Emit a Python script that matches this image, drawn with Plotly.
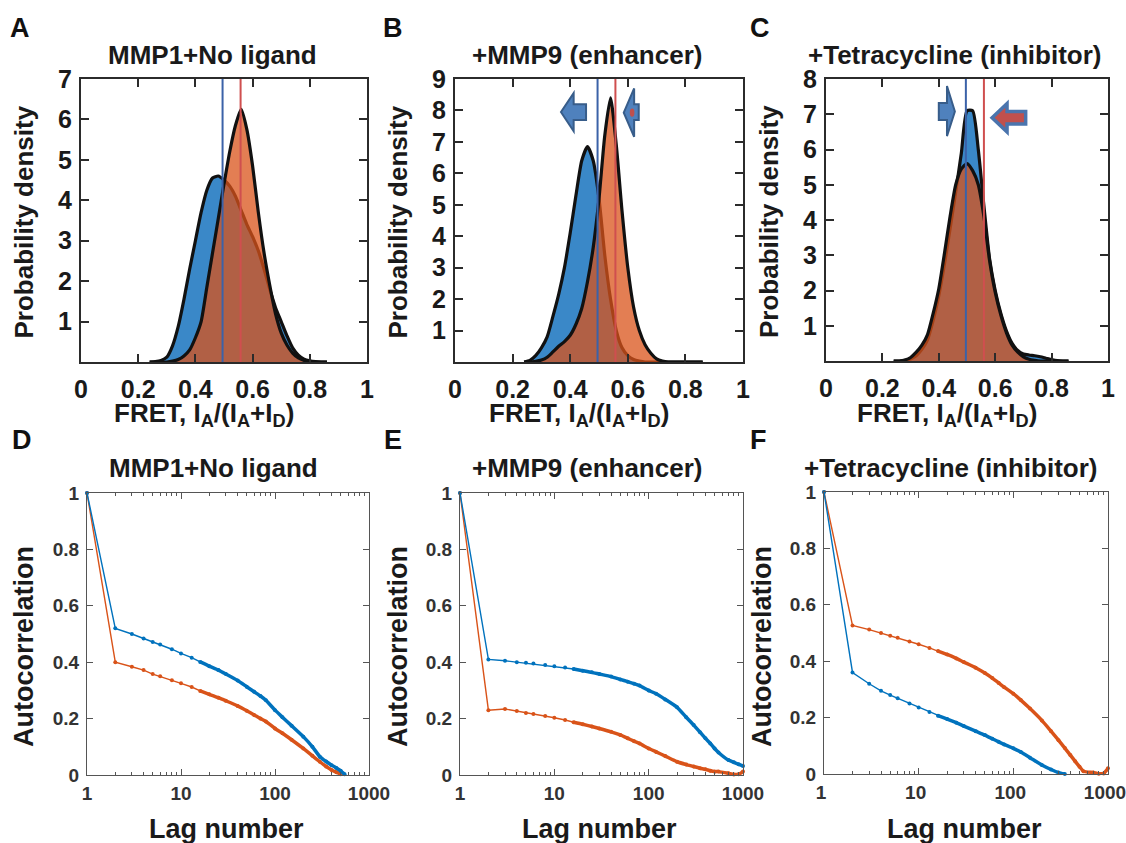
import plotly.graph_objects as go

# ---------------- data ----------------
fret_bins = [0.24, 0.26, 0.28, 0.30, 0.32, 0.34, 0.36, 0.38, 0.40, 0.42, 0.44,
             0.46, 0.48, 0.50, 0.52, 0.54, 0.56, 0.58, 0.60, 0.62, 0.64, 0.66,
             0.68, 0.70, 0.72, 0.74, 0.76, 0.78, 0.80, 0.82, 0.84, 0.86]

hist_A_blue = [0, 0.01, 0.04, 0.12, 0.40, 0.88, 1.55, 2.3, 3.0, 3.7, 4.25, 4.55, 4.6, 4.5,
               4.35, 4.1, 3.75, 3.4, 3.1, 2.75, 2.3, 1.8, 1.35, 1.0, 0.65, 0.35, 0.17,
               0.07, 0.03, 0.01, 0, 0]
hist_A_orange = [0, 0, 0, 0, 0.02, 0.06, 0.15, 0.3, 0.6, 1.0, 1.85, 2.7, 3.55, 4.4, 5.2,
                 5.85, 6.25, 5.75, 4.85, 3.7, 2.7, 1.9, 1.2, 0.72, 0.42, 0.22, 0.1, 0.04,
                 0.01, 0, 0, 0]
hist_B_blue = [0, 0.05, 0.2, 0.45, 0.8, 1.45, 2.15, 3.0, 4.1, 5.3, 6.4, 6.85, 6.4, 5.2,
               3.4, 2.0, 1.0, 0.45, 0.2, 0.08, 0.03, 0, 0, 0, 0, 0, 0, 0, 0, 0, 0, 0]
hist_B_orange = [0, 0, 0.02, 0.06, 0.15, 0.32, 0.5, 0.65, 0.85, 1.2, 1.7, 2.55, 3.65, 5.2,
                 7.2, 8.4, 6.9, 4.8, 3.0, 1.75, 1.0, 0.55, 0.28, 0.1, 0.03, 0, 0, 0, 0,
                 0, 0, 0]
hist_C_blue = [0, 0, 0.02, 0.06, 0.15, 0.33, 0.6, 1.15, 1.85, 2.75, 3.75, 4.8, 5.9, 7.1,
               7.1, 6.0, 4.4, 2.9, 2.0, 1.35, 0.85, 0.5, 0.3, 0.2, 0.17, 0.15, 0.12, 0.08,
               0.04, 0.01, 0, 0]
hist_C_orange = [0, 0, 0.03, 0.1, 0.25, 0.45, 0.75, 1.35, 2.05, 3.05, 4.1, 5.0, 5.45, 5.6,
                 5.4, 5.0, 4.1, 2.85, 1.95, 1.3, 0.8, 0.45, 0.25, 0.12, 0.05, 0.02, 0, 0,
                 0, 0, 0, 0]

mean_fret_blue = [0.495, 0.495, 0.496]
mean_fret_red = [0.558, 0.557, 0.560]

fret_ticks = [0, 0.2, 0.4, 0.6, 0.8, 1]
fret_ticktext = ["0", "0.2", "0.4", "0.6", "0.8", "1"]
density_max = [7, 9, 8]

lags = [1, 2, 3, 4, 5, 6, 8, 10, 13, 16, 20, 25, 30, 40, 50, 60, 70, 80, 100, 120, 150,
        200, 250, 300, 350, 400, 450, 500, 550, 700, 800, 900, 1000]

acf_D_blue = [1, 0.52, 0.50, 0.484, 0.472, 0.463, 0.446, 0.431, 0.416, 0.401, 0.386, 0.372,
              0.358, 0.335, 0.313, 0.295, 0.280, 0.265, 0.23, 0.205, 0.175, 0.136, 0.10,
              0.065, 0.048, 0.035, 0.025, 0.015, 0.003]
acf_D_orange = [1, 0.40, 0.384, 0.372, 0.358, 0.350, 0.336, 0.325, 0.312, 0.298, 0.286,
                0.274, 0.263, 0.245, 0.228, 0.213, 0.200, 0.190, 0.165, 0.148, 0.125, 0.094,
                0.068, 0.047, 0.030, 0.018, 0.010, 0.003]
acf_E_blue = [1, 0.41, 0.405, 0.40, 0.398, 0.395, 0.390, 0.386, 0.381, 0.376, 0.37, 0.364,
              0.358, 0.349, 0.339, 0.331, 0.324, 0.317, 0.30, 0.288, 0.268, 0.24, 0.205,
              0.177, 0.152, 0.13, 0.112, 0.094, 0.08, 0.053, 0.045, 0.038, 0.032]
acf_E_orange = [1, 0.23, 0.234, 0.227, 0.22, 0.216, 0.209, 0.203, 0.195, 0.187, 0.18, 0.172,
                0.165, 0.153, 0.142, 0.130, 0.120, 0.112, 0.094, 0.082, 0.067, 0.047, 0.037,
                0.030, 0.024, 0.020, 0.015, 0.012, 0.012, 0.006, 0.002, 0.003, 0.012]
acf_F_blue = [1, 0.36, 0.32, 0.295, 0.28, 0.269, 0.25, 0.236, 0.22, 0.207, 0.195, 0.182,
              0.17, 0.152, 0.138, 0.125, 0.114, 0.105, 0.091, 0.078, 0.058, 0.032, 0.016,
              0.005, 0.0]
acf_F_orange = [1, 0.527, 0.512, 0.50, 0.49, 0.483, 0.47, 0.46, 0.447, 0.436, 0.424, 0.41,
                0.397, 0.377, 0.358, 0.34, 0.323, 0.308, 0.285, 0.262, 0.232, 0.19, 0.152,
                0.12, 0.092, 0.067, 0.045, 0.026, 0.01, 0.005, 0.001, 0.002, 0.02]

lag_ticks = [1, 10, 100, 1000]
lag_ticktext = ["1", "10", "100", "1000"]
lag_minor = [2, 3, 4, 5, 6, 7, 8, 9, 20, 30, 40, 50, 60, 70, 80, 90,
             200, 300, 400, 500, 600, 700, 800, 900]
acf_ticks = [0, 0.2, 0.4, 0.6, 0.8, 1]
acf_ticktext = ["0", "0.2", "0.4", "0.6", "0.8", "1"]

titles = ["MMP1+No ligand", "+MMP9 (enhancer)", "+Tetracycline (inhibitor)"]
letters_top = ["A", "B", "C"]
letters_bot = ["D", "E", "F"]

# ---------------- layout helpers ----------------
W, H = 1126, 843
FONT = "Arial, Liberation Sans, sans-serif"
BLUE_FILL = "rgb(58,136,200)"
ORANGE_FILL = "rgba(217,83,25,0.75)"
MBLUE = "#0072BD"
MORANGE = "#D95319"
DENSE_FROM = 9  # index in lags from which the original markers merge into a thick band


def fx(x):
    return x / W


def fy(y):
    return 1 - y / H


top_boxes = [((81, 367), (79, 362)), ((455, 743), (79, 362)), ((826, 1108), (79, 361))]
bot_boxes = [((87, 369), (493, 775)), ((460, 743), (493, 775)), ((824, 1108), (492, 774))]

fig = go.Figure()
annotations = []
shapes = []

hist_blue = [hist_A_blue, hist_B_blue, hist_C_blue]
hist_orange = [hist_A_orange, hist_B_orange, hist_C_orange]

for i in range(3):
    n = i + 1
    xa = "x" if n == 1 else f"x{n}"
    ya = "y" if n == 1 else f"y{n}"
    fig.add_trace(go.Scatter(x=fret_bins, y=hist_blue[i], xaxis=xa, yaxis=ya, mode="lines",
                             line=dict(color="#111111", width=3.2, shape="spline",
                                       smoothing=0.6),
                             fill="tozeroy", fillcolor=BLUE_FILL, showlegend=False))
    fig.add_trace(go.Scatter(x=fret_bins, y=hist_orange[i], xaxis=xa, yaxis=ya, mode="lines",
                             line=dict(color="#111111", width=3.2, shape="spline",
                                       smoothing=0.6),
                             fill="tozeroy", fillcolor=ORANGE_FILL, showlegend=False))
    shapes.append(dict(type="line", xref=xa, yref=f"{ya} domain", x0=mean_fret_blue[i],
                       x1=mean_fret_blue[i], y0=0, y1=1,
                       line=dict(color="#3b62a8", width=2), layer="above"))
    shapes.append(dict(type="line", xref=xa, yref=f"{ya} domain", x0=mean_fret_red[i],
                       x1=mean_fret_red[i], y0=0, y1=1,
                       line=dict(color="#cf4f4f", width=2), layer="above"))

acf_blue = [acf_D_blue, acf_E_blue, acf_F_blue]
acf_orange = [acf_D_orange, acf_E_orange, acf_F_orange]
for i in range(3):
    n = i + 4
    xa, ya = f"x{n}", f"y{n}"
    for vals, col in ((acf_orange[i], MORANGE), (acf_blue[i], MBLUE)):
        xs = lags[:len(vals)]
        fig.add_trace(go.Scatter(x=xs, y=vals, xaxis=xa, yaxis=ya,
                                 mode="lines+markers", cliponaxis=False,
                                 line=dict(color=col, width=1.4),
                                 marker=dict(color=col, size=4),
                                 showlegend=False))
        # dense part of the curve: markers at every lag merge into a thick band
        fig.add_trace(go.Scatter(x=xs[DENSE_FROM:], y=vals[DENSE_FROM:], xaxis=xa, yaxis=ya,
                                 mode="lines", cliponaxis=False,
                                 line=dict(color=col, width=3.5, shape="spline",
                                           smoothing=0.5),
                                 showlegend=False, hoverinfo="skip"))

layout = dict(width=W, height=H, paper_bgcolor="white", plot_bgcolor="white",
              margin=dict(l=0, r=0, t=0, b=0, autoexpand=False),
              font=dict(family=FONT, color="#1a1a1a"))

for i in range(3):
    (x0, x1), (y0, y1) = top_boxes[i]
    n = i + 1
    sx = "" if n == 1 else str(n)
    layout[f"xaxis{sx}"] = dict(domain=[fx(x0), fx(x1)], range=[0, 1], anchor=f"y{sx}",
                                automargin=False,
                                tickvals=fret_ticks, ticktext=fret_ticktext, ticks="inside",
                                ticklen=8, tickwidth=2, tickcolor="#2b2b2b", showline=True,
                                linewidth=2, linecolor="#2b2b2b", mirror="ticks",
                                showgrid=False, zeroline=False, ticklabelstandoff=4,
                                ticklabeloverflow="allow",
                                tickfont=dict(size=25, family=FONT, weight="bold",
                                              color="#1a1a1a"))
    layout[f"yaxis{sx}"] = dict(domain=[fy(y1), fy(y0)], range=[0, density_max[i]],
                                anchor=f"x{sx}", automargin=False,
                                tickvals=list(range(1, density_max[i] + 1)), ticks="inside",
                                ticklen=8, tickwidth=2, tickcolor="#2b2b2b", showline=True,
                                linewidth=2, linecolor="#2b2b2b", mirror="ticks",
                                showgrid=False, zeroline=False, ticklabelstandoff=2,
                                tickfont=dict(size=25, family=FONT, weight="bold",
                                              color="#1a1a1a"))
    cx = (x0 + x1) / 2
    annotations.append(dict(text=titles[i], x=fx(cx - 12), y=fy(55), xref="paper",
                            yref="paper", showarrow=False, xanchor="center", yanchor="middle",
                            font=dict(size=26, family=FONT, weight="bold", color="#1a1a1a")))
    annotations.append(dict(text="FRET, I<sub>A</sub>/(I<sub>A</sub>+I<sub>D</sub>)",
                            x=fx(cx - 20), y=fy(414), xref="paper", yref="paper",
                            showarrow=False, xanchor="center", yanchor="middle",
                            font=dict(size=26, family=FONT, weight="bold", color="#1a1a1a")))
    annotations.append(dict(text="Probability density", x=fx(x0 - 57), y=fy((y0 + y1) / 2 + 2),
                            xref="paper", yref="paper", showarrow=False, textangle=-90,
                            xanchor="center", yanchor="middle",
                            font=dict(size=26, family=FONT, weight="bold", color="#1a1a1a")))
    annotations.append(dict(text=letters_top[i], x=fx([20, 393, 760][i]), y=fy(28),
                            xref="paper", yref="paper", showarrow=False, xanchor="center",
                            yanchor="middle",
                            font=dict(size=27, family=FONT, weight="bold", color="#111111")))

for i in range(3):
    (x0, x1), (y0, y1) = bot_boxes[i]
    n = i + 4
    layout[f"xaxis{n}"] = dict(domain=[fx(x0), fx(x1)], type="log", range=[0, 3],
                               anchor=f"y{n}", automargin=False,
                               tickvals=lag_ticks, ticktext=lag_ticktext,
                               ticks="inside", ticklen=6, tickwidth=1, tickcolor="#555555",
                               minor=dict(tickvals=lag_minor, ticks="inside", ticklen=3,
                                          tickcolor="#555555", showgrid=False),
                               showline=True, linewidth=1.3, linecolor="#555555",
                               mirror="ticks", showgrid=False, zeroline=False,
                               ticklabelstandoff=1, ticklabeloverflow="allow",
                               ticklabelshift=(-3 if i == 2 else 0),
                               tickfont=dict(size=19, family=FONT, weight="bold",
                                             color="#333333"))
    layout[f"yaxis{n}"] = dict(domain=[fy(y1), fy(y0)], range=[0, 1], anchor=f"x{n}",
                               automargin=False,
                               tickvals=acf_ticks, ticktext=acf_ticktext, ticks="inside",
                               ticklen=6, tickwidth=1, tickcolor="#555555", showline=True,
                               linewidth=1.3, linecolor="#555555", mirror="ticks",
                               showgrid=False, zeroline=False, ticklabelstandoff=3,
                               tickfont=dict(size=19, family=FONT, weight="bold",
                                             color="#333333"))
    cx = (x0 + x1) / 2
    annotations.append(dict(text=titles[i], x=fx(cx - 15), y=fy(468), xref="paper",
                            yref="paper", showarrow=False, xanchor="center", yanchor="middle",
                            font=dict(size=26, family=FONT, weight="bold", color="#1a1a1a")))
    annotations.append(dict(text="Lag number", x=fx(cx - 2), y=fy(829), xref="paper",
                            yref="paper", showarrow=False, xanchor="center", yanchor="middle",
                            font=dict(size=27, family=FONT, weight="bold", color="#1a1a1a")))
    annotations.append(dict(text="Autocorrelation", x=fx(x0 - 63 if i == 0 else x0 - 62),
                            y=fy(647), xref="paper", yref="paper", showarrow=False,
                            textangle=-90, xanchor="center", yanchor="middle",
                            font=dict(size=27, family=FONT, weight="bold", color="#1a1a1a")))
    annotations.append(dict(text=letters_bot[i], x=fx([22, 393, 758][i]), y=fy(440),
                            xref="paper", yref="paper", showarrow=False, xanchor="center",
                            yanchor="middle",
                            font=dict(size=27, family=FONT, weight="bold", color="#111111")))

# shift arrows (PowerPoint-style block arrows drawn on the histogram panels)
ARROW_BLUE = "#4f81bd"
ARROW_EDGE = "#385d8a"
shapes += [
    dict(type="path", xref="x2", yref="y2", layer="above",
         path="M 0.368 7.95 L 0.412 8.55 L 0.412 8.2 L 0.455 8.2 L 0.455 7.7 L 0.412 7.7 "
              "L 0.412 7.34 Z",
         fillcolor=ARROW_BLUE, line=dict(color=ARROW_EDGE, width=2)),
    dict(type="path", xref="x2", yref="y2", layer="above",
         path="M 0.586 7.93 L 0.622 8.7 L 0.622 8.2 L 0.638 8.2 L 0.638 7.7 L 0.622 7.7 "
              "L 0.622 7.16 Z",
         fillcolor=ARROW_BLUE, line=dict(color=ARROW_EDGE, width=2)),
    dict(type="circle", xref="x2", yref="y2", layer="above", x0=0.607, x1=0.623, y0=7.8,
         y1=8.06, fillcolor="#c0504d", line=dict(width=0)),
    dict(type="path", xref="x3", yref="y3", layer="above",
         path="M 0.457 7.08 L 0.429 7.8 L 0.429 7.32 L 0.400 7.32 L 0.400 6.84 L 0.429 6.84 "
              "L 0.429 6.38 Z",
         fillcolor=ARROW_BLUE, line=dict(color=ARROW_EDGE, width=2)),
    dict(type="path", xref="x3", yref="y3", layer="above",
         path="M 0.589 6.9 L 0.642 7.3 L 0.642 7.08 L 0.708 7.08 L 0.708 6.72 L 0.642 6.72 "
              "L 0.642 6.5 Z",
         fillcolor="#c0504d", line=dict(color="#4a74ad", width=3.5)),
]

layout["annotations"] = annotations
layout["shapes"] = shapes
fig.update_layout(**layout)
# place the figure at the page origin (remove the browser's default 8px body margin)
fig.write_html("out.html", config={"displayModeBar": False},
               post_script="document.body.style.margin='0';"
                           "document.body.style.overflow='hidden';")
